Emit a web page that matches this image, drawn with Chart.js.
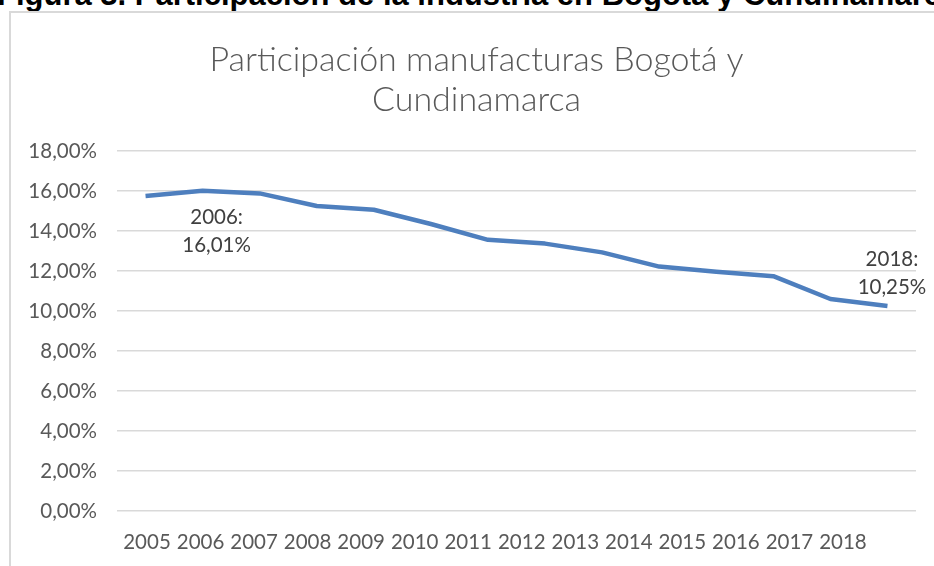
<!DOCTYPE html>
<html><head><meta charset="utf-8">
<script src="https://cdn.jsdelivr.net/npm/chart.js@4/dist/chart.umd.min.js"></script>
<style>
html,body{margin:0;padding:0;background:#fff;overflow:hidden}
#wrap{position:relative;width:934px;height:566px;overflow:hidden;background:#fff}
#cap{position:absolute;left:-3px;top:-21px;font:bold 31px "Liberation Sans",Arial,sans-serif;line-height:31px;white-space:nowrap;color:#000}
#frame{position:absolute;left:9px;top:11px;width:1000px;height:600px;border:2px solid #d9d9d9;box-sizing:border-box}
canvas{position:absolute;left:0;top:0}
</style></head><body>
<div id="wrap">
<div id="cap">Figura 3. Participación de la industria en Bogotá y Cundinamarca</div>
<div id="frame"></div>
<canvas id="c" width="934" height="566"></canvas>
</div>
<script>
const categories = ['2005','2006','2007','2008','2009','2010','2011','2012','2013','2014','2015','2016','2017','2018'];
const values = [15.75, 16.01, 15.88, 15.25, 15.06, 14.35, 13.56, 13.37, 12.93, 12.22, 11.96, 11.74, 10.60, 10.25];
const titleLines = ['Participación manufacturas Bogotá y', 'Cundinamarca'];
const yMin = 0, yMax = 18, yStep = 2;
const labeledPoints = [1, 13];

const fmt = v => v.toFixed(2).replace('.', ',') + '%';
const FONT = 'Lato, "Open Sans", sans-serif';

const labelPlacement = {
  1:  { dx: 14, dys: [27, 55] },
  13: { dx: 4.5, dys: [-47, -19] }
};

const titlePlugin = {
  id: 'chartTitle',
  afterDraw(chart) {
    const ctx = chart.ctx;
    ctx.save();
    ctx.font = '300 34px ' + FONT;
    ctx.fillStyle = '#595959';
    ctx.textAlign = 'center';
    ctx.textBaseline = 'middle';
    titleLines.forEach((t, k) => ctx.fillText(t, 476.5, 60 + k * 40));
    ctx.restore();
  }
};

const dataLabelPlugin = {
  id: 'dataLabels',
  afterDatasetsDraw(chart) {
    const meta = chart.getDatasetMeta(0);
    const ctx = chart.ctx;
    ctx.save();
    ctx.font = '20.5px ' + FONT;
    ctx.fillStyle = '#404040';
    ctx.textAlign = 'center';
    ctx.textBaseline = 'middle';
    labeledPoints.forEach(i => {
      const pt = meta.data[i];
      const p = labelPlacement[i];
      const lines = [categories[i] + ':', fmt(values[i])];
      lines.forEach((t, k) => ctx.fillText(t, pt.x + p.dx, pt.y + p.dys[k]));
    });
    ctx.restore();
  }
};

new Chart(document.getElementById('c'), {
  type: 'line',
  data: {
    labels: categories,
    datasets: [{
      data: values,
      borderColor: '#4e7fbe',
      borderWidth: 4.5,
      borderCapStyle: 'butt',
      borderJoinStyle: 'round',
      pointRadius: 0,
      tension: 0,
      fill: false
    }]
  },
  options: {
    responsive: false,
    animation: false,
    devicePixelRatio: 1,
    layout: { padding: { left: 0, right: 18, top: 151, bottom: 0 } },
    plugins: {
      legend: { display: false },
      tooltip: { enabled: false },
      title: { display: false }
    },
    scales: {
      x: {
        type: 'category',
        display: false,
        offset: true
      },
      xl: {
        type: 'linear',
        position: 'bottom',
        min: -0.5603,
        max: 14.364,
        afterBuildTicks: s => { s.ticks = categories.map((_, i) => ({ value: i })); },
        afterFit: s => { s.height = 55; },
        grid: { display: false, drawTicks: false },
        border: { display: false },
        ticks: {
          autoSkip: false,
          maxRotation: 0,
          padding: 19,
          color: '#595959',
          font: { family: FONT, size: 20.5 },
          callback: v => categories[v]
        }
      },
      y: {
        min: yMin,
        max: yMax,
        afterFit: s => { s.width = 117; },
        border: { display: false },
        grid: { color: '#d9d9d9', lineWidth: 1.5, drawTicks: false },
        ticks: {
          stepSize: yStep,
          padding: 20,
          color: '#595959',
          font: { family: FONT, size: 20.5 },
          callback: v => fmt(v)
        }
      }
    }
  },
  plugins: [dataLabelPlugin, titlePlugin]
});
</script>
</body></html>
